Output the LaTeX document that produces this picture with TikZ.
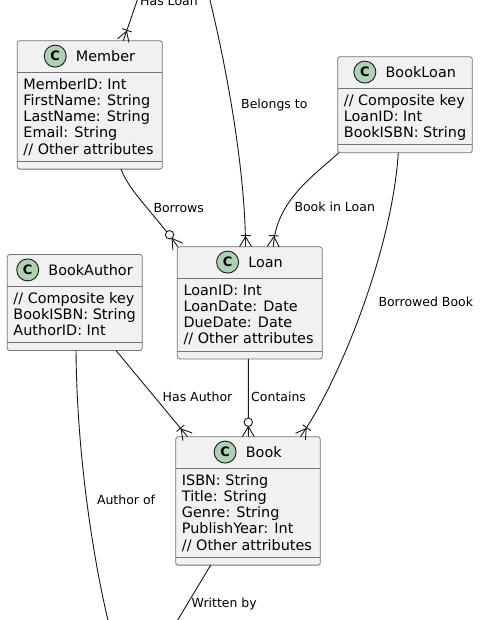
\documentclass[tikz,border=0pt]{standalone}
\usepackage{fontspec}
\setmainfont{DejaVu Sans}
\usetikzlibrary{calc}
\definecolor{boxfill}{HTML}{F1F1F1}
\definecolor{ink}{HTML}{181818}
\definecolor{badgefill}{HTML}{ADD1B2}
\tikzset{
  box/.style={rectangle, draw=ink!60, line width=0.8bp, fill=boxfill, rounded corners=2.5bp, inner sep=0, outer sep=0},
  sepline/.style={draw=ink!60, line width=0.8bp},
  ctitle/.style={font=\fontsize{14.4bp}{16bp}\selectfont, inner sep=0, text=black},
  attr/.style={font=\fontsize{14.4bp}{16bp}\selectfont, inner sep=0, text=black},
  badge/.style={circle, draw=ink, line width=0.9bp, fill=badgefill, minimum size=22bp, inner sep=0, font=\fontsize{13bp}{13bp}\selectfont\bfseries},
  conn/.style={draw=ink, line width=0.9bp},
  lbl/.style={font=\fontsize{12.5bp}{14bp}\selectfont, inner sep=0, anchor=base west, text=black},
}
\newcommand\umlclass[7]{%
  \node[box, anchor=north west, minimum width=#4bp, minimum height=#5bp] (#1) at (#2,#3) {};
  \draw[sepline] ([yshift=-31.5bp]#1.north west) -- ([yshift=-31.5bp]#1.north east);
  \draw[sepline] ([yshift=8bp]#1.south west) -- ([yshift=8bp]#1.south east);
  \node[ctitle, anchor=base] (#1-t) at ([xshift=15.75bp,yshift=-21bp]#1.north) {#6};
  \node[badge] (#1-c) at ([xshift=-20.5bp,yshift=5.6bp]#1-t.base west) {C};
  \foreach \myattr [count=\i] in {#7}
    \node[attr, anchor=base west] (#1-a\i) at ([xshift=6bp,yshift={-48.6bp-16.2bp*(\i-1)}]#1.north west) {\myattr};
}
\newcommand\footmany[2]{%
  \draw[conn] ($(#1)!10bp!(#2)$) -- ($(#1)!6bp!90:(#2)$)
              ($(#1)!10bp!(#2)$) -- ($(#1)!6bp!-90:(#2)$);}
\newcommand\footone[2]{\footmany{#1}{#2}%
  \coordinate (#1-bar) at ($(#1)!11bp!(#2)$);
  \draw[conn] ($(#1-bar)!5bp!90:(#2)$) -- ($(#1-bar)!5bp!-90:(#2)$);}
\newcommand\footzero[2]{\footmany{#1}{#2}%
  \draw[conn, fill=white] ($(#1)!14.5bp!(#2)$) circle[radius=4.2bp];}
\begin{document}
\begin{tikzpicture}[x=1bp,y=-1bp]
\fill[white] (0,0) rectangle (481,620);
\path[use as bounding box] (0,0) rectangle (481,620);
\clip (0,0) rectangle (481,620);

\umlclass{member}{17.3}{40.7}{145}{128.4}{Member}{MemberID: Int, FirstName: String, LastName: String, Email: String, // Other attributes}
\umlclass{bookloan}{337.7}{56.7}{134.6}{96}{BookLoan}{// Composite key, LoanID: Int, BookISBN: String}
\umlclass{bookauthor}{7.3}{254.5}{135}{96}{BookAuthor}{// Composite key, BookISBN: String, AuthorID: Int}
\umlclass{loan}{177.3}{246.7}{145}{112.2}{Loan}{LoanID: Int, LoanDate: Date, DueDate: Date, // Other attributes}
\umlclass{book}{175.7}{436.7}{144.6}{128.4}{Book}{ISBN: String, Title: String, Genre: String, PublishYear: Int, // Other attributes}

% connection points
\coordinate (m-hl) at ([xshift=106bp]member.north west);
\coordinate (m-bo) at ([xshift=103.7bp]member.south west);
\coordinate (bl-bil) at ([xshift=1bp]bookloan.south west);
\coordinate (bl-bb) at ([xshift=60.6bp]bookloan.south west);
\coordinate (ba-ha) at ([xshift=108.7bp]bookauthor.south west);
\coordinate (ba-ao) at ([xshift=68.7bp]bookauthor.south west);
\coordinate (l-bt) at ([xshift=68.2bp]loan.north west);
\coordinate (l-bo) at ([xshift=0.5bp]loan.north west);
\coordinate (l-bil) at ([xshift=96bp]loan.north west);
\coordinate (l-co) at ([xshift=71bp]loan.south west);
\coordinate (b-ha) at ([xshift=11.8bp]book.north west);
\coordinate (b-co) at ([xshift=72.6bp]book.north west);
\coordinate (b-bb) at ([xshift=124.8bp]book.north west);
\coordinate (b-wb) at ([xshift=35bp]book.south west);
% free ends and control points
\coordinate (hlTop) at (144.2,-20);
\coordinate (btTop) at (207.5,-10);
\coordinate (btC1) at (230,80);
\coordinate (btC2) at (245.5,180);
\coordinate (boC1) at (128,190);
\coordinate (boC2) at (158,218);
\coordinate (bilC1) at (315,175);
\coordinate (bilC2) at (276,200);
\coordinate (bbC1) at (392,250);
\coordinate (bbC2) at (340,380);
\coordinate (aoC1) at (77,470);
\coordinate (aoC2) at (98,585);
\coordinate (aoBot) at (113,640);
\coordinate (wbBot) at (165.7,640);

% Has Loan
\draw[conn] (hlTop) -- (m-hl);
\footone{m-hl}{hlTop}
% Belongs to
\draw[conn] (btTop) .. controls (btC1) and (btC2) .. (l-bt);
\footone{l-bt}{btC2}
% Borrows
\draw[conn] (m-bo) .. controls (boC1) and (boC2) .. (l-bo);
\footzero{l-bo}{boC2}
% Book in Loan
\draw[conn] (bl-bil) .. controls (bilC1) and (bilC2) .. (l-bil);
\footone{l-bil}{bilC2}
% Borrowed Book
\draw[conn] (bl-bb) .. controls (bbC1) and (bbC2) .. (b-bb);
\footone{b-bb}{bbC2}
% Contains
\draw[conn] (l-co) -- (b-co);
\footzero{b-co}{l-co}
% Has Author
\draw[conn] (ba-ha) -- (b-ha);
\footone{b-ha}{ba-ha}
% Author of
\draw[conn] (ba-ao) .. controls (aoC1) and (aoC2) .. (aoBot);
% Written by
\draw[conn] (b-wb) -- (wbBot);

% labels
\node[lbl] (t-hasloan) at (140,6) {Has Loan};
\node[lbl] (t-belongs) at (241,108.4) {Belongs to};
\node[lbl] (t-borrows) at (153.3,212.4) {Borrows};
\node[lbl] (t-bookinloan) at (294.3,211.8) {Book in Loan};
\node[lbl] (t-borrowedbook) at (378.3,306.4) {Borrowed Book};
\node[lbl] (t-hasauthor) at (162.5,401.8) {Has Author};
\node[lbl] (t-contains) at (251,401.8) {Contains};
\node[lbl] (t-authorof) at (96.8,504.8) {Author of};
\node[lbl] (t-writtenby) at (191.5,607.4) {Written by};
\end{tikzpicture}
\end{document}
